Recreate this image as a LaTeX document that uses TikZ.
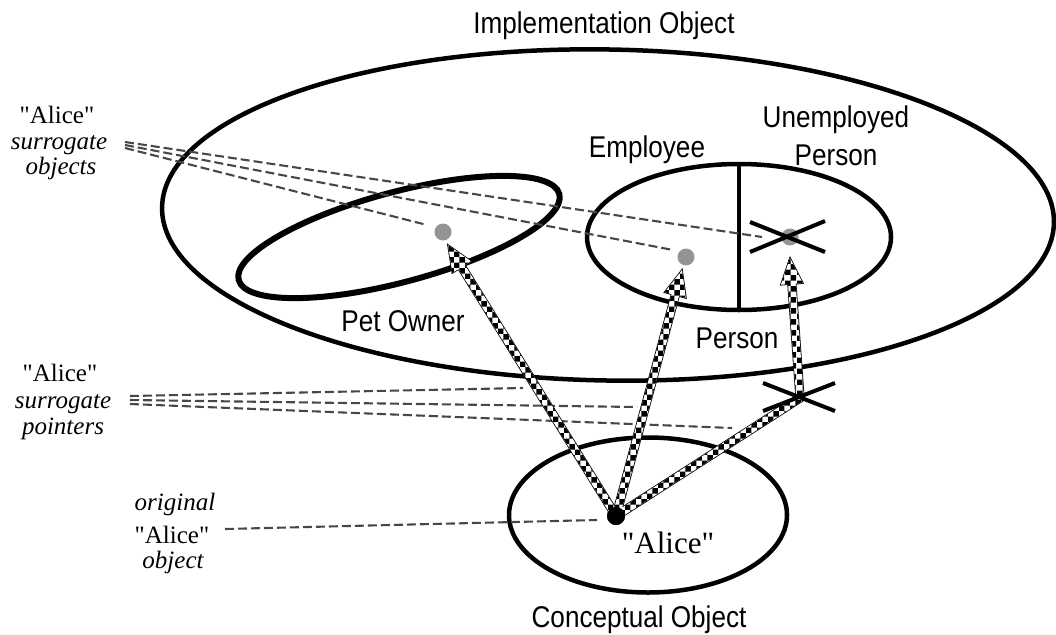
\documentclass[tikz,border=0pt]{standalone}
\usepackage{fontspec}
\setmainfont{Liberation Serif}[Ligatures=TeXOff]
\newfontfamily\hsans[FakeStretch=0.87]{Liberation Sans}
\usetikzlibrary{calc,patterns,shapes.geometric}
\tikzset{
  outline/.style={draw, ellipse, line width=4.5pt, inner sep=0pt, outer sep=0pt},
  gdot/.style={circle, fill=black!42, inner sep=0pt, minimum size=17pt},
  bdot/.style={circle, fill=black, inner sep=0pt, minimum size=18pt},
  surr/.style={line width=2.1pt, draw=black!72, dash pattern=on 9pt off 4pt},
  xmark/.style={line width=4pt},
  sanslab/.style={font=\hsans\fontsize{30}{36}\selectfont, inner sep=0pt, anchor=base},
  seriflab/.style={font=\fontsize{25}{26}\selectfont, inner sep=0pt, anchor=base},
}
\newcommand\arrowpath[3]{($(#1)!3.8pt!90:(#2)$) -- ($(#3)!3.8pt!90:(#2)$) -- ($(#3)!11pt!90:(#2)$) -- (#2) -- ($(#3)!11pt!-90:(#2)$) -- ($(#3)!3.8pt!-90:(#2)$) -- ($(#1)!3.8pt!-90:(#2)$) -- cycle}
\newcommand\barpath[2]{($(#1)!3.8pt!90:(#2)$) -- ($(#2)!3.8pt!-90:(#1)$) -- ($(#2)!3.8pt!90:(#1)$) -- ($(#1)!3.8pt!-90:(#2)$) -- cycle}
\newcommand\allpieces[1]{%
  \path[#1] \arrowpath{al.center}{t1}{h1};
  \path[#1] \arrowpath{al.center}{t2}{h2};
  \path[#1] \barpath{al.center}{xk};
  \path[#1] (xk) circle (3.8pt);
  \path[#1] \arrowpath{xk}{t3}{h3};}
\begin{document}
\begin{tikzpicture}[x=1pt,y=-1pt]
\useasboundingbox (0,0) rectangle (1056,634);

% ellipses
\node[outline, minimum width=892pt, minimum height=331pt, rotate=-1] (impl) at (608,215) {};
\node[outline, line width=6pt, minimum width=332pt, minimum height=90pt, rotate=15] (pet) at (399,237) {};
\node[outline, minimum width=304pt, minimum height=146pt] (emp) at (739,237) {};
\draw[line width=4pt] (emp.north) -- (emp.south);
\node[outline, minimum width=278pt, minimum height=155pt] (cobj) at (648,515) {};

% labels
\node[sanslab] (ttl) at (604,34) {Implementation Object};
\node[sanslab] (lemp) at (647,157) {Employee};
\node[sanslab] (lun1) at (836,127) {Unemployed};
\node[sanslab] (lun2) at (836,165) {Person};
\node[sanslab] (lper) at (737,348) {Person};
\node[sanslab] (lpet) at (403,331) {Pet Owner};
\node[sanslab] (lcon) at (639,627) {Conceptual Object};
\node[font=\fontsize{31}{31}\selectfont, inner sep=0pt, anchor=base] (lal) at (668,553) {"Alice"};

\node[seriflab] (a1) at (57,123) {"Alice"};
\node[seriflab] (a2) at (59,149) {\itshape surrogate};
\node[seriflab] (a3) at (61,174) {\itshape objects};
\node[seriflab] (b1) at (60,381) {"Alice"};
\node[seriflab] (b2) at (63,408) {\itshape surrogate};
\node[seriflab] (b3) at (63,434) {\itshape pointers};
\node[seriflab] (c1) at (175,510) {\itshape original};
\node[seriflab] (c2) at (172,543) {"Alice"};
\node[seriflab] (c3) at (173,568) {\itshape object};

% dots
\node[gdot] (d1) at (443,232) {};
\node[gdot] (d2) at (686,257) {};
\node[gdot] (d3) at (790,237) {};

% surrogate object lines
\coordinate (s1) at (125,142); \coordinate (e1) at (762,237);
\coordinate (s2) at (125,145); \coordinate (e2) at (673,250);
\coordinate (s3) at (125,148); \coordinate (e3) at (427,225);
\draw[surr] (s1) -- (e1);
\draw[surr] (s2) -- (e2);
\draw[surr] (s3) -- (e3);

% surrogate pointer lines
\coordinate (q1s) at (130,396); \coordinate (q1e) at (523,388);
\coordinate (q2s) at (130,400); \coordinate (q2e) at (637,407);
\coordinate (q3s) at (130,404); \coordinate (q3e) at (732,428);
\draw[surr] (q1s) -- (q1e);
\draw[surr] (q2s) -- (q2e);
\draw[surr] (q3s) -- (q3e);

% original object line
\coordinate (os) at (225,529); \coordinate (oe) at (597,520);
\draw[surr] (os) -- (oe);

% arrows
\node[bdot] (al) at (616,516) {};
\coordinate (t1) at (448,245);
\coordinate (t2) at (682,270);
\coordinate (xk) at (800,398);
\coordinate (t3) at (790,258);
\coordinate (h1) at ($(t1)!26pt!(al.center)$);
\coordinate (h2) at ($(t2)!26pt!(al.center)$);
\coordinate (h3) at ($(t3)!26pt!(xk)$);
\allpieces{draw, line width=1.6pt}
\allpieces{fill=white}
\allpieces{pattern=checkerboard}
\node[bdot] at (al) {};

% X marks
\draw[xmark] (750,222) -- (825,252);
\draw[xmark] (750,252) -- (825,221);
\draw[xmark] (763,383) -- (835,411);
\draw[xmark] (763,411) -- (835,383);
\end{tikzpicture}
\end{document}
